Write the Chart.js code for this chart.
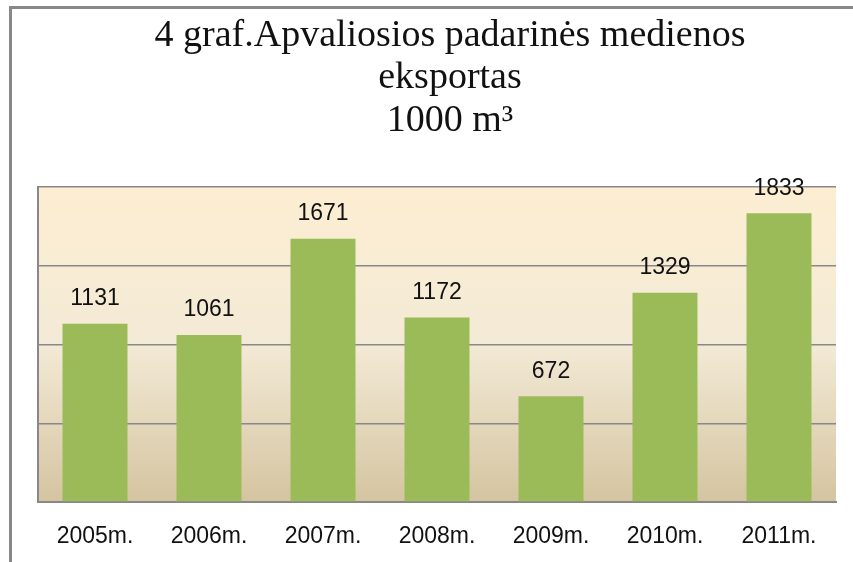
<!DOCTYPE html>
<html>
<head>
<meta charset="utf-8">
<script src="https://cdn.jsdelivr.net/npm/chart.js@4/dist/chart.umd.min.js"></script>
<style>
  html, body { margin: 0; padding: 0; background: #fff; }
  #wrap { width: 853px; height: 562px; }
</style>
</head>
<body>
<div id="wrap"><canvas id="exportChart" width="853" height="562"></canvas></div>
<script>
// Round timber exports, thousand cubic metres
const years = ['2005m.', '2006m.', '2007m.', '2008m.', '2009m.', '2010m.', '2011m.'];
const exportVolume = [1131, 1061, 1671, 1172, 672, 1329, 1833];
const titleLines = ['4 graf.Apvaliosios padarinės medienos', 'eksportas', '1000 m³'];

const frameColor = '#888888';

// outer frame + gradient plot background
const backdrop = {
  id: 'backdrop',
  beforeDraw(chart) {
    const { ctx, chartArea: a } = chart;
    ctx.save();
    ctx.fillStyle = '#fff';
    ctx.fillRect(0, 0, chart.width, chart.height);
    ctx.strokeStyle = frameColor;
    ctx.lineWidth = 3;
    ctx.beginPath();
    ctx.moveTo(10.5, chart.height);
    ctx.lineTo(10.5, 7.5);
    ctx.lineTo(chart.width, 7.5);
    ctx.stroke();

    const g = ctx.createLinearGradient(0, a.top, 0, a.bottom);
    g.addColorStop(0, '#fdeed2');
    g.addColorStop(0.5, '#f3ead6');
    g.addColorStop(1, '#d4c4a0');
    ctx.fillStyle = g;
    ctx.fillRect(a.left, a.top, a.right - a.left, a.bottom - a.top);
    ctx.restore();
  }
};

// title sits a bit right of the canvas centre, like the original
const titleBlock = {
  id: 'titleBlock',
  afterDraw(chart) {
    const { ctx } = chart;
    ctx.save();
    ctx.font = '38px "Liberation Serif", "Times New Roman", serif';
    ctx.fillStyle = '#111';
    ctx.textAlign = 'center';
    ctx.textBaseline = 'middle';
    titleLines.forEach((line, i) => ctx.fillText(line, 450, 36 + i * 42.5));
    ctx.restore();
  }
};

// value labels above the bars
const valueLabels = {
  id: 'valueLabels',
  afterDatasetsDraw(chart) {
    const { ctx } = chart;
    const meta = chart.getDatasetMeta(0);
    ctx.save();
    ctx.font = '23px "Liberation Sans", Arial, sans-serif';
    ctx.fillStyle = '#111';
    ctx.textAlign = 'center';
    ctx.textBaseline = 'middle';
    meta.data.forEach((bar, i) => {
      ctx.fillText(String(exportVolume[i]), bar.x, bar.y - 25);
    });
    ctx.restore();
  }
};

new Chart(document.getElementById('exportChart'), {
  type: 'bar',
  data: {
    labels: years,
    datasets: [{
      data: exportVolume,
      backgroundColor: '#9bbb59',
      borderWidth: 0,
      barPercentage: 0.57,
      categoryPercentage: 1
    }]
  },
  options: {
    responsive: false,
    animation: false,
    layout: { padding: { left: 38, right: 17, top: 187, bottom: 0 } },
    plugins: {
      legend: { display: false },
      tooltip: { enabled: false },
      title: { display: false }
    },
    scales: {
      x: {
        grid: { display: false },
        border: { display: true, color: frameColor, width: 2 },
        ticks: {
          color: '#111',
          padding: 13,
          font: { family: '"Liberation Sans", Arial, sans-serif', size: 23 }
        },
        afterFit(scale) { scale.height = 60; }
      },
      y: {
        min: 0,
        max: 2000,
        ticks: { display: false, stepSize: 500 },
        grid: { color: frameColor, lineWidth: 1.5, drawTicks: false },
        border: { display: true, color: frameColor, width: 2 }
      }
    }
  },
  plugins: [backdrop, titleBlock, valueLabels]
});
</script>
</body>
</html>
